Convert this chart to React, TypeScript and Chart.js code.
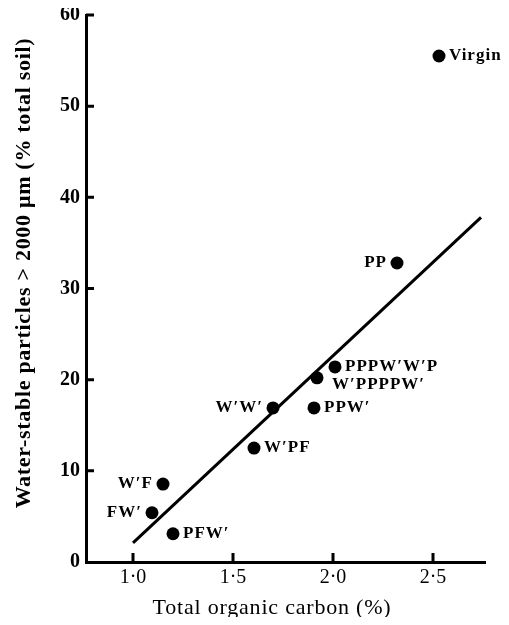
import React, { useEffect, useRef } from "react";
import { Chart, registerables } from "chart.js";

Chart.register(...registerables);

// ---- data ----
const rotations = ["Virgin", "PP", "PPPW′W′P", "W′PPPPW′", "W′W′", "PPW′", "W′PF", "W′F", "FW′", "PFW′"];
const organicCarbon = [2.53, 2.32, 2.01, 1.92, 1.7, 1.905, 1.605, 1.15, 1.095, 1.2];
const stableParticles = [55.5, 32.8, 21.4, 20.2, 16.9, 16.9, 12.5, 8.55, 5.4, 3.1];
const labelSide = ["right", "left", "right", "right", "left", "right", "right", "left", "left", "right"];
const fitCarbon = [1.0, 2.74];
const fitParticles = [2.1, 37.8];
const xTickValues = [1.0, 1.5, 2.0, 2.5];
const xTickLabels = ["1·0", "1·5", "2·0", "2·5"];
const yTickValues = [0, 10, 20, 30, 40, 50, 60];
const xTitle = "Total organic carbon (%)";
const yTitle = "Water-stable particles > 2000 μm (% total soil)";

const SERIF = "'Liberation Serif', 'Times New Roman', serif";
const labelNudge: Record<string, { dx: number; dy: number }> = { "W′PPPPW′": { dx: 5, dy: 7 } };

const decorPlugin = {
  id: "decor",
  afterDraw(chart: any) {
    const ctx = chart.ctx as CanvasRenderingContext2D;
    const xs = chart.scales.x;
    const ys = chart.scales.y;
    const { left, bottom } = chart.chartArea;
    ctx.save();
    // inward tick marks
    ctx.strokeStyle = "#000";
    ctx.lineWidth = 3;
    ctx.beginPath();
    xs.ticks.forEach((t: any) => {
      const px = xs.getPixelForValue(t.value);
      ctx.moveTo(px, bottom);
      ctx.lineTo(px, bottom - 9);
    });
    ys.ticks.forEach((t: any) => {
      if (t.value === 0) return;
      const py = ys.getPixelForValue(t.value);
      ctx.moveTo(left, py);
      ctx.lineTo(left + 8, py);
    });
    ctx.stroke();

    // point labels
    const meta = chart.getDatasetMeta(0);
    ctx.fillStyle = "#000";
    ctx.font = `bold 17px ${SERIF}`;
    (ctx as any).letterSpacing = "1px";
    ctx.textBaseline = "middle";
    meta.data.forEach((pt: any, i: number) => {
      const isLeft = labelSide[i] === "left";
      ctx.textAlign = isLeft ? "right" : "left";
      const nudge = labelNudge[rotations[i]] || { dx: 0, dy: 0 };
      const dx = (isLeft ? -10 : 10) + nudge.dx;
      ctx.fillText(rotations[i], pt.x + dx, pt.y + nudge.dy);
    });

    // axis titles
    ctx.textAlign = "center";
    ctx.textBaseline = "middle";
    ctx.font = `22px ${SERIF}`;
    (ctx as any).letterSpacing = "0.8px";
    ctx.fillText(xTitle, 264, 600);

    ctx.translate(16, 265);
    ctx.rotate(-Math.PI / 2);
    ctx.font = `bold 22px ${SERIF}`;
    (ctx as any).letterSpacing = "0.7px";
    ctx.fillText(yTitle, 0, 0);
    ctx.restore();
  },
};

export default function App() {
  const ref = useRef<HTMLCanvasElement | null>(null);

  useEffect(() => {
    if (!ref.current) return;
    const chart = new Chart(ref.current, {
      type: "scatter",
      data: {
        datasets: [
          {
            type: "scatter",
            data: organicCarbon.map((x, i) => ({ x, y: stableParticles[i] })),
            backgroundColor: "#000",
            borderColor: "#000",
            borderWidth: 0,
            pointRadius: 6.5,
            pointHoverRadius: 6.5,
          },
          {
            type: "line",
            data: fitCarbon.map((x, i) => ({ x, y: fitParticles[i] })),
            borderColor: "#000",
            borderWidth: 3,
            pointRadius: 0,
            fill: false,
            showLine: true,
          } as any,
        ],
      },
      options: {
        responsive: false,
        animation: false,
        devicePixelRatio: 1,
        events: [],
        layout: { padding: { top: 7, right: 16, left: 0, bottom: 0 } },
        plugins: { legend: { display: false }, tooltip: { enabled: false } },
        scales: {
          x: {
            type: "linear",
            min: 0.765,
            max: 2.76,
            grid: { display: false, drawTicks: false },
            border: { display: true, color: "#000", width: 3 },
            afterBuildTicks: (s: any) => {
              s.ticks = xTickValues.map((v) => ({ value: v }));
            },
            afterFit: (s: any) => {
              s.height = 55;
              s.paddingLeft = 0;
              s.paddingRight = 0;
            },
            ticks: {
              color: "#000",
              font: { family: SERIF, size: 20 },
              padding: 4,
              maxRotation: 0,
              autoSkip: false,
              callback: (v: any) => {
                const i = xTickValues.indexOf(Number(v));
                return i >= 0 ? xTickLabels[i] : "";
              },
            },
          },
          y: {
            type: "linear",
            min: 0,
            max: 60,
            grid: { display: false, drawTicks: false },
            border: { display: true, color: "#000", width: 3 },
            afterBuildTicks: (s: any) => {
              s.ticks = yTickValues.map((v) => ({ value: v }));
            },
            afterFit: (s: any) => {
              s.width = 78;
              s.paddingTop = 0;
              s.paddingBottom = 0;
            },
            ticks: {
              color: "#000",
              font: { family: SERIF, size: 20, weight: "bold" },
              padding: 6,
              autoSkip: false,
            },
          },
        },
      },
      plugins: [decorPlugin],
    });
    return () => chart.destroy();
  }, []);

  return <canvas ref={ref} width={493} height={609} style={{ display: "block" }} />;
}
